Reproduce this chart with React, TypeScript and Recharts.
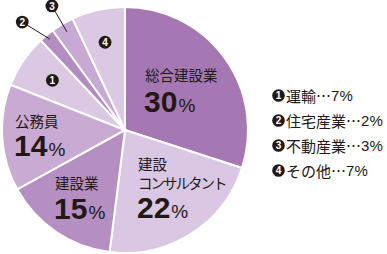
import { Cell, Legend, Pie, PieChart } from "recharts";

const categories = [
  "総合建設業",
  "建設コンサルタント",
  "建設業",
  "公務員",
  "運輸",
  "住宅産業",
  "不動産業",
  "その他"
];
const shares = [30, 22, 15, 14, 7, 2, 3, 7];
const sliceColors = [
  "#a678b3",
  "#d9c7e3",
  "#b58fc2",
  "#c8aad3",
  "#dbc9e4",
  "#b38dc1",
  "#c8a9d3",
  "#dbc9e4"
];
// label text inside the pie (null = numbered marker)
const labelLines: (string[] | null)[] = [
  ["総合建設業"],
  ["建設", "コンサルタント"],
  ["建設業"],
  ["公務員"],
  null,
  null,
  null,
  null
];
const markerNumbers = ["", "", "", "", "1", "2", "3", "4"];

const data = categories.map((name, i) => ({ name, value: shares[i] }));

const INK = "#231815";
const CJK = "'Noto Sans CJK JP', 'Noto Sans', sans-serif";
const LATIN = "'Liberation Sans', Arial, sans-serif";

// polar placement of each label (angle in degrees, radius in px from centre)
const labelLayout = [
  { angle: 67.8, r: 53, pctDy: 31, lineGap: 19 },
  { angle: -72, r: 42, pctDy: 48, lineGap: 19 },
  { angle: -139.8, r: 91.5, pctDy: 29.5, lineGap: 19 },
  { angle: 178.5, r: 110, pctDy: 29, lineGap: 19 },
  { angle: 145.6, r: 88, leader: 0 },
  { angle: 133.6, r: 149, leader: 118 },
  { angle: 120.5, r: 144, leader: 114 },
  { angle: 102.8, r: 90, leader: 0 }
];

const polar = (cx: number, cy: number, r: number, deg: number) => {
  const a = (deg * Math.PI) / 180;
  return { x: cx + r * Math.cos(a), y: cy - r * Math.sin(a) };
};

function Marker({ x, y, n, r = 6.4 }: { x: number; y: number; n: string; r?: number }) {
  return (
    <g>
      <circle cx={x} cy={y} r={r} fill={INK} />
      <text
        x={x}
        y={y + 3.6}
        textAnchor="middle"
        fill="#fff"
        fontSize={10}
        fontWeight="bold"
        fontFamily={LATIN}
      >
        {n}
      </text>
    </g>
  );
}

function renderLabel(props: any) {
  const { cx, cy, midAngle, index } = props;
  const lay = labelLayout[index];
  const lines = labelLines[index];
  const p = polar(cx, cy, lay.r, lay.angle);

  if (!lines) {
    const end = lay.leader ? polar(cx, cy, lay.leader, midAngle) : null;
    return (
      <g key={`lbl-${index}`}>
        {end && (
          <line x1={p.x} y1={p.y} x2={end.x} y2={end.y} stroke={INK} strokeWidth={1} />
        )}
        <Marker x={p.x} y={p.y} n={markerNumbers[index]} />
      </g>
    );
  }

  return (
    <g key={`lbl-${index}`}>
      {lines.map((t, i) => (
        <text
          key={t}
          x={p.x}
          y={p.y + i * (lay.lineGap ?? 19)}
          fill={INK}
          fontSize={14.5}
          fontFamily={CJK}
          letterSpacing={t.length > 5 ? -2 : 0}
        >
          {t}
        </text>
      ))}
      <text x={p.x - 1} y={p.y + (lay.pctDy ?? 30)} fill={INK} fontFamily={LATIN}>
        <tspan fontSize={30} fontWeight="bold">
          {shares[index]}
        </tspan>
        <tspan fontSize={19} dx={1}>
          %
        </tspan>
      </text>
    </g>
  );
}

function LegendList() {
  return (
    <div style={{ fontFamily: CJK, color: INK }}>
      {categories.map((name, i) =>
        markerNumbers[i] ? (
          <div
            key={name}
            style={{ display: "flex", alignItems: "center", height: 25, whiteSpace: "nowrap" }}
          >
            <svg width={13} height={13} style={{ marginRight: 1 }}>
              <Marker x={6.5} y={6.5} n={markerNumbers[i]} r={6.3} />
            </svg>
            <span style={{ fontSize: 15 }}>{name}…</span>
            <span style={{ fontSize: 15, fontFamily: LATIN }}>{shares[i]}%</span>
          </div>
        ) : null
      )}
    </div>
  );
}

export default function App() {
  return (
    <div lang="ja" style={{ position: "fixed", left: 0, top: 0, width: 387, height: 254, background: "#fff" }}>
      <PieChart width={387} height={254} margin={{ top: 0, right: 0, bottom: 0, left: 0 }}>
        <Pie
          data={data}
          dataKey="value"
          nameKey="name"
          cx={125}
          cy={130}
          outerRadius={123}
          startAngle={90}
          endAngle={-270}
          stroke="#fff"
          strokeWidth={2}
          label={renderLabel}
          labelLine={false}
          isAnimationActive={false}
        >
          {data.map((d, i) => (
            <Cell key={d.name} fill={sliceColors[i]} />
          ))}
        </Pie>
        <Legend
          content={() => <LegendList />}
          wrapperStyle={{ position: "absolute", left: 272, top: 83, width: 115, height: 100 }}
        />
      </PieChart>
    </div>
  );
}
